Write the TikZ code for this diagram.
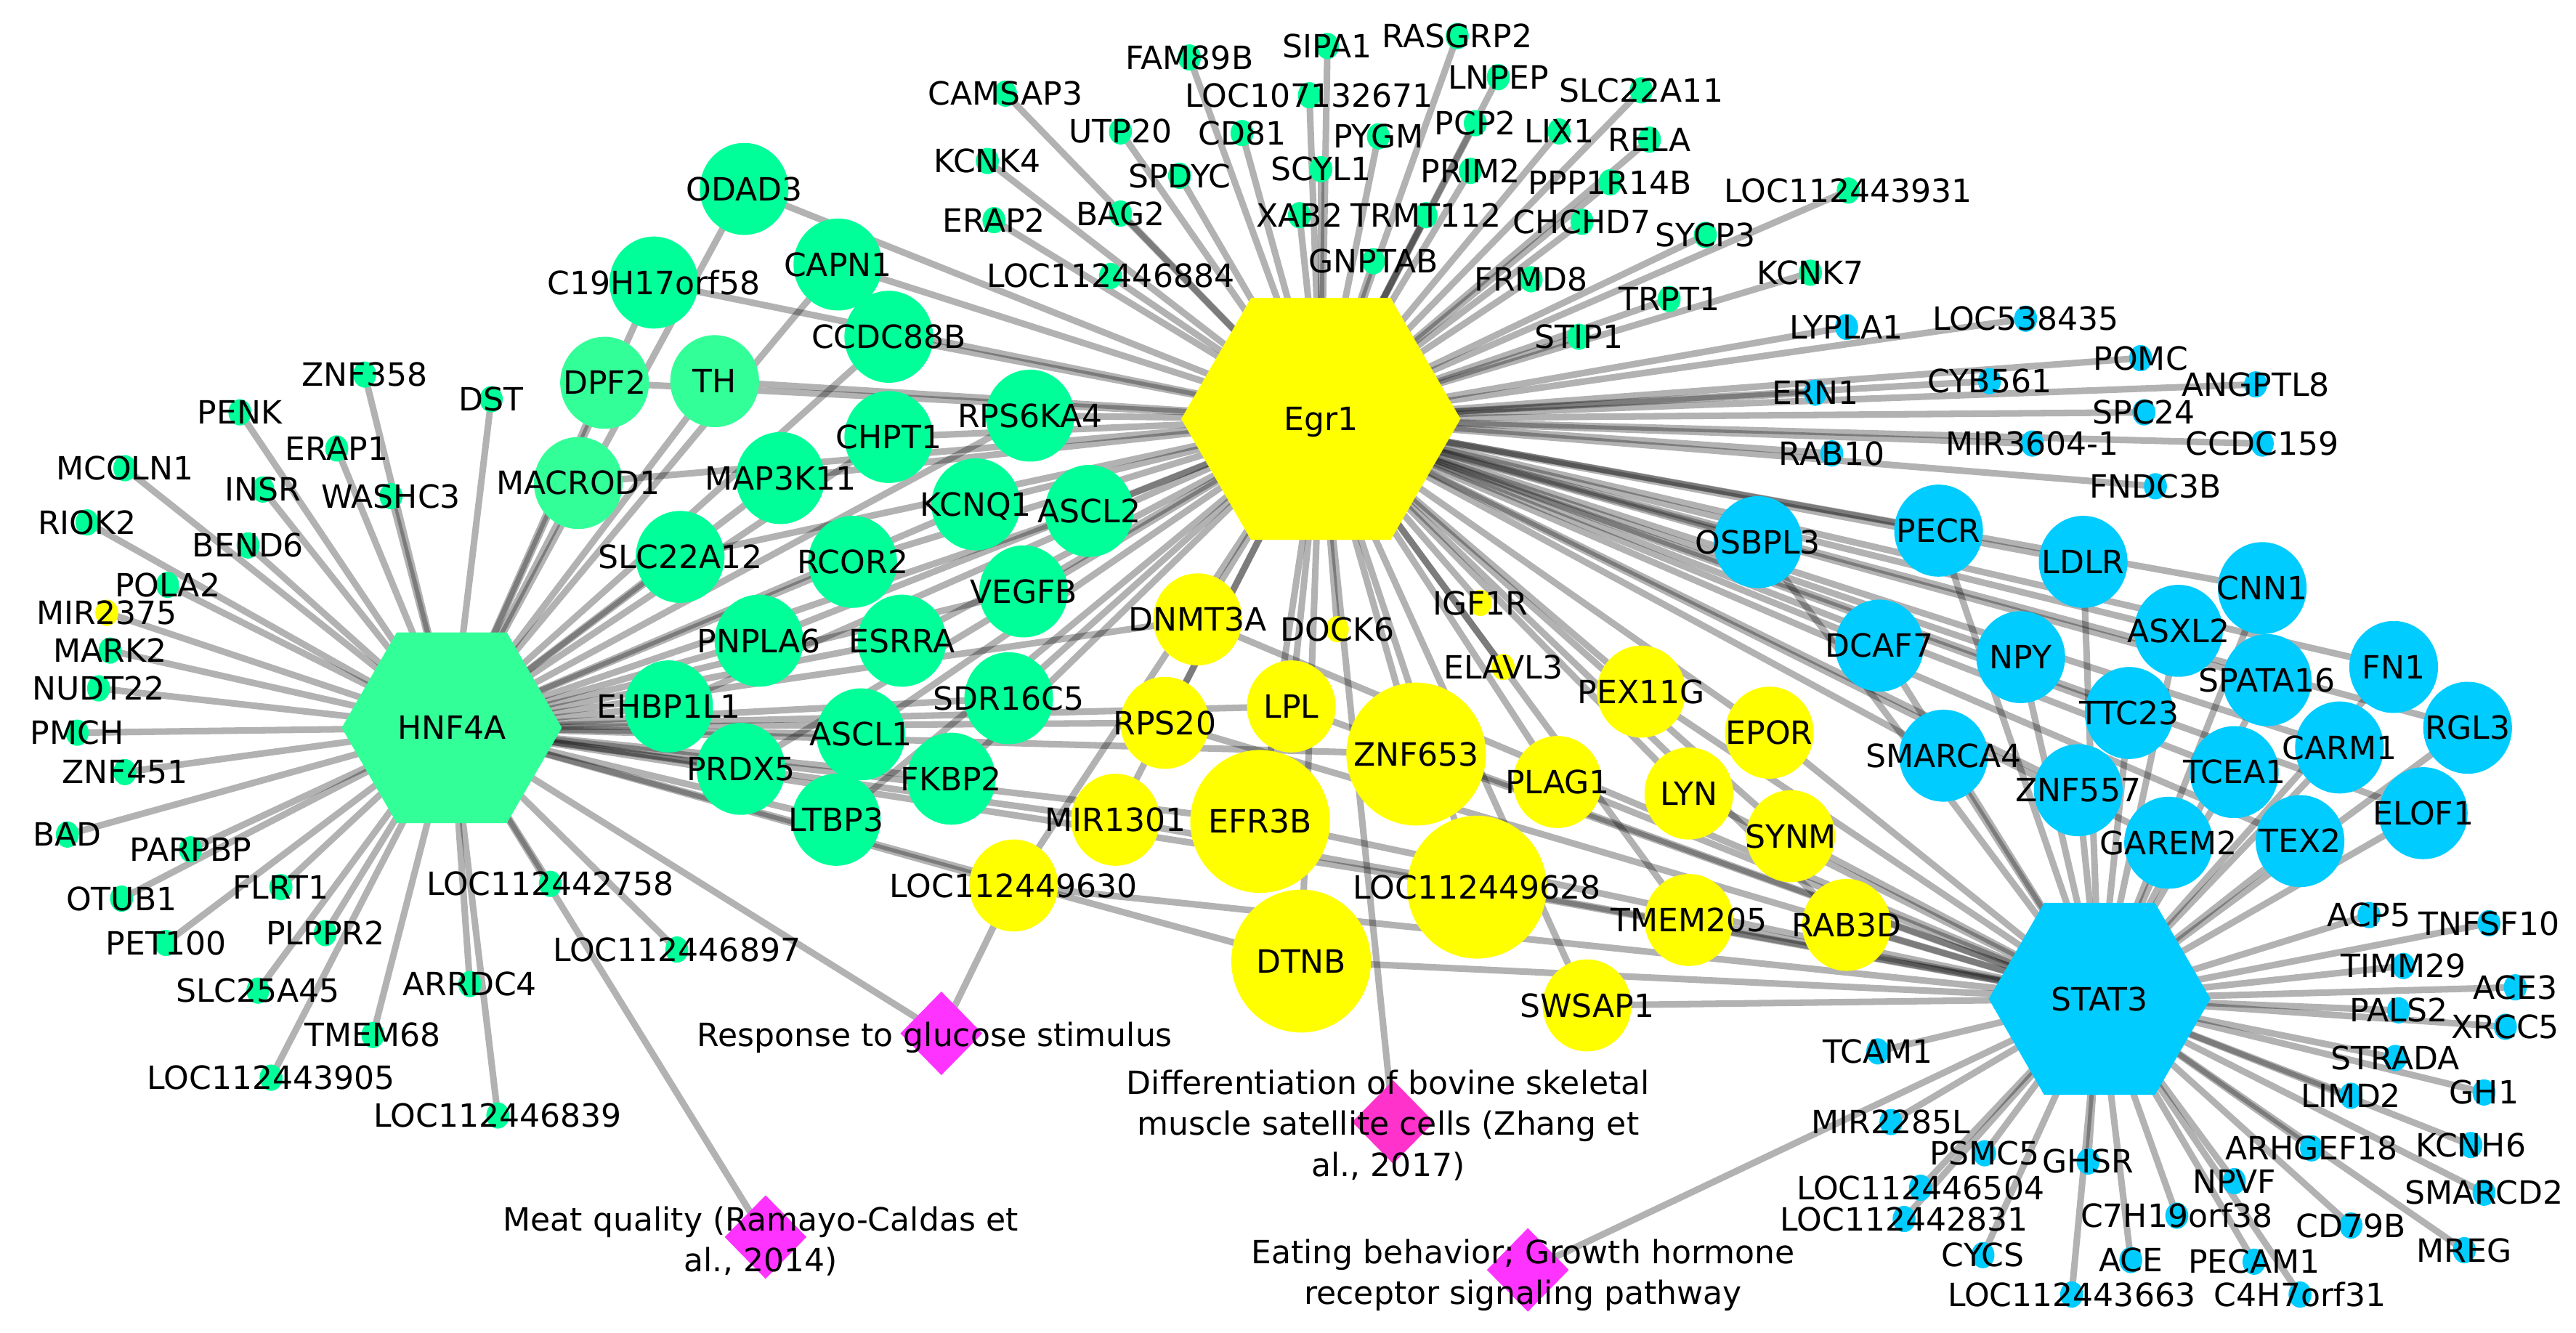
\documentclass[tikz,border=0pt]{standalone}
\usepackage{fontspec}
\setmainfont{DejaVu Sans}
\usetikzlibrary{shapes.geometric}
\pgfdeclarelayer{background}
\pgfdeclarelayer{foreground}
\pgfsetlayers{background,main,foreground}
\definecolor{gA}{HTML}{00FF99}
\definecolor{gB}{HTML}{33FF99}
\definecolor{yA}{HTML}{FFFF00}
\definecolor{bA}{HTML}{00CCFF}
\definecolor{mA}{HTML}{FF33FF}
\definecolor{mB}{HTML}{FF33CC}
\newcommand\lblfont{\fontsize{19.5}{24.8}\selectfont}
\def\passA#1#2#3#4#5{\node[#2] (#1) at (#3,#4) {};}
\def\passB#1#2#3#4#5{\node[lbl] (#1l) at (#1.center) {#5};}
\newcommand\GT[5]{\curpass{#1}{#2}{#3}{#4}{#5}}
\newcommand\G[4]{\curpass{#1}{#2}{#3}{#4}{#1}}
\newcommand\hubto[2]{\foreach \n in {#2}{\draw[lnk] (#1.center) -- (\n.center);}}
\newcommand\hexat[3]{\fill[#3] (#1.center) +(0:#2) -- +(60:#2) -- +(120:#2) -- +(180:#2) -- +(240:#2) -- +(300:#2) -- cycle;}
\newcommand\allnodes{%
\G{HNF4A}{hub}{275}{443}\G{Egr1}{hub}{804}{255}\G{STAT3}{hub}{1278}{608}%
% green left small
\G{ZNF358}{gd}{222}{228}\G{DST}{gd}{299}{243}\G{PENK}{gd}{146}{251}\G{ERAP1}{gd}{205}{273}%
\G{MCOLN1}{gd}{76}{285}\G{INSR}{gd}{160}{298}\G{WASHC3}{gd}{238}{302}\G{RIOK2}{gd}{53}{318}%
\G{BEND6}{gd}{151}{332}\G{POLA2}{gd}{102}{356}\G{MIR2375}{yd}{65}{373}\G{MARK2}{gd}{67}{396}%
\G{NUDT22}{gd}{60}{419}\G{PMCH}{gd}{47}{446}\G{ZNF451}{gd}{76}{470}\G{BAD}{gd}{41}{508}%
\G{PARPBP}{gd}{116}{517}\G{FLRT1}{gd}{171}{540}\G{OTUB1}{gd}{74}{547}\G{PET100}{gd}{101}{574}%
\G{PLPPR2}{gd}{198}{568}\G{SLC25A45}{gd}{157}{603}\G{TMEM68}{gd}{227}{630}\G{LOC112443905}{gd}{165}{656}%
\G{ARRDC4}{gd}{286}{599}\G{LOC112446839}{gd}{303}{679}\G{LOC112442758}{gd}{335}{538}\G{LOC112446897}{gd}{412}{578}%
% green big
\G{ODAD3}{gb}{453}{115}\G{C19H17orf58}{gb}{398}{172}\G{CAPN1}{gb}{510}{161}\G{CCDC88B}{gb}{541}{205}%
\G{DPF2}{gl}{368}{233}\G{TH}{gl}{435}{232}\G{MACROD1}{gl}{352}{294}\G{RPS6KA4}{gb}{627}{253}%
\G{CHPT1}{gb}{541}{266}\G{MAP3K11}{gb}{475}{291}\G{SLC22A12}{gb}{414}{339}\G{KCNQ1}{gb}{594}{307}%
\G{ASCL2}{gb}{663}{311}\G{RCOR2}{gb}{519}{342}\G{VEGFB}{gb}{623}{360}\G{PNPLA6}{gb}{462}{390}%
\G{ESRRA}{gb}{549}{390}\G{EHBP1L1}{gb}{407}{430}\G{SDR16C5}{gb}{614}{425}\G{ASCL1}{gb}{524}{447}%
\G{PRDX5}{gb}{451}{468}\G{FKBP2}{gb}{579}{474}\G{LTBP3}{gb}{509}{499}%
% green top small
\G{FAM89B}{gd}{724}{35}\G{CAMSAP3}{gd}{612}{57}\G{UTP20}{gd}{682}{80}\G{CD81}{gd}{756}{81}%
\G{KCNK4}{gd}{601}{98}\G{SPDYC}{gd}{718}{107}\G{ERAP2}{gd}{605}{134}\G{BAG2}{gd}{682}{130}%
\G{LOC112446884}{gd}{676}{168}\G{SIPA1}{gd}{808}{28}\G{LOC107132671}{gd}{797}{58}\G{SCYL1}{gd}{804}{103}%
\G{XAB2}{gd}{791}{131}\G{PYGM}{gd}{839}{83}\G{GNPTAB}{gd}{836}{159}\G{TRMT112}{gd}{868}{131}%
\G{RASGRP2}{gd}{887}{22}\G{LNPEP}{gd}{912}{47}\G{PCP2}{gd}{898}{75}\G{PRIM2}{gd}{895}{104}%
\G{LIX1}{gd}{949}{80}\G{SLC22A11}{gd}{999}{55}\G{RELA}{gd}{1004}{85}\G{PPP1R14B}{gd}{980}{111}%
\G{CHCHD7}{gd}{963}{135}\G{SYCP3}{gd}{1038}{143}\G{LOC112443931}{gd}{1125}{116}\G{FRMD8}{gd}{932}{170}%
\G{KCNK7}{gd}{1102}{166}\G{TRPT1}{gd}{1016}{182}\G{STIP1}{gd}{961}{205}%
% blue top small
\G{LYPLA1}{bd}{1124}{199}\G{ERN1}{bd}{1105}{239}\G{RAB10}{bd}{1115}{276}\G{LOC538435}{bd}{1233}{194}%
\G{CYB561}{bd}{1211}{232}\G{POMC}{bd}{1303}{218}\G{ANGPTL8}{bd}{1373}{234}\G{SPC24}{bd}{1305}{251}%
\GT{MIRthreesix}{bd}{1237}{270}{MIR3604-1}\G{CCDC159}{bd}{1377}{270}\G{FNDC3B}{bd}{1312}{296}%
% yellow
\G{DOCK6}{yd}{814}{383}\G{IGF1R}{yd}{901}{367}\G{ELAVL3}{yd}{915}{406}%
\G{DNMT3A}{yb}{729}{377}\G{RPS20}{yb}{709}{440}\G{LPL}{yb}{786}{430}\G{PEX11G}{yb}{999}{421}%
\G{EPOR}{yb}{1077}{446}\G{PLAG1}{yb}{948}{476}\G{LYN}{yb}{1028}{483}\G{SYNM}{yb}{1090}{509}%
\G{MIR1301}{yb}{679}{499}\G{LOC112449630}{yb}{617}{539}\G{TMEM205}{yb}{1028}{560}\G{RAB3D}{yb}{1124}{563}%
\G{SWSAP1}{yb}{966}{612}\G{ZNF653}{yh}{862}{459}\G{EFR3B}{yh}{767}{500}\G{LOC112449628}{yh}{899}{540}%
\G{DTNB}{yh}{792}{585}%
% blue big
\G{OSBPL3}{bb}{1070}{330}\G{PECR}{bb}{1180}{323}\G{LDLR}{bb}{1268}{342}\G{CNN1}{bb}{1377}{358}%
\G{DCAF7}{bb}{1144}{393}\G{NPY}{bb}{1230}{400}\G{ASXL2}{bb}{1326}{384}\G{SPATA16}{bb}{1380}{414}%
\G{FN1}{bb}{1457}{406}\G{RGL3}{bb}{1502}{443}\G{TTC23}{bb}{1296}{434}\G{SMARCA4}{bb}{1183}{460}%
\G{ZNF557}{bb}{1265}{481}\G{TCEA1}{bb}{1360}{470}\G{CARM1}{bb}{1424}{455}\G{ELOF1}{bb}{1475}{495}%
\G{GAREM2}{bb}{1320}{513}\G{TEX2}{bb}{1400}{512}%
% blue bottom small
\G{ACP5}{bd}{1442}{557}\G{TNFSF10}{bd}{1515}{562}\G{TIMM29}{bd}{1463}{588}\G{ACE3}{bd}{1531}{601}%
\G{PALS2}{bd}{1460}{615}\G{XRCC5}{bd}{1525}{625}\G{STRADA}{bd}{1458}{644}\G{LIMD2}{bd}{1431}{667}%
\G{GH1}{bd}{1512}{665}\G{ARHGEF18}{bd}{1407}{699}\G{KCNH6}{bd}{1504}{697}\G{NPVF}{bd}{1360}{719}%
\G{SMARCD2}{bd}{1512}{726}\G{C7H19orf38}{bd}{1325}{740}\G{CD79B}{bd}{1431}{746}\G{MREG}{bd}{1500}{761}%
\G{ACE}{bd}{1297}{767}\G{PECAM1}{bd}{1372}{768}\G{LOC112443663}{bd}{1261}{788}\G{C4H7orf31}{bd}{1400}{788}%
\G{CYCS}{bd}{1207}{764}\G{GHSR}{bd}{1271}{707}\G{PSMC5}{bd}{1208}{702}\G{LOC112446504}{bd}{1169}{723}%
\G{LOC112442831}{bd}{1159}{742}\G{MIR2285L}{bd}{1151}{683}\G{TCAM1}{bd}{1143}{640}%
}
\begin{document}
\begin{tikzpicture}[x=1pt,y=-1pt,
  nsm/.style={ellipse,inner sep=0pt,minimum width=14pt,minimum height=16pt},
  nbg/.style={ellipse,inner sep=0pt,minimum width=54pt,minimum height=56pt},
  nhg/.style={ellipse,inner sep=0pt,minimum width=85pt,minimum height=87pt},
  hub/.style={circle,inner sep=0pt,minimum size=10pt},
  gd/.style={nsm,fill=gA}, yd/.style={nsm,fill=yA}, bd/.style={nsm,fill=bA},
  gb/.style={nbg,fill=gA}, gl/.style={nbg,fill=gB}, yb/.style={nbg,fill=yA},
  yh/.style={nhg,fill=yA}, bb/.style={nbg,fill=bA},
  diam/.style={diamond,inner sep=0pt,minimum width=50pt,minimum height=51pt},
  lbl/.style={inner sep=0pt,anchor=base,yshift=-7.1pt,font=\lblfont,text=black},
  mlbl/.style={inner sep=0pt,anchor=north,align=center,font=\lblfont,text=black},
  lnk/.style={line width=4pt,draw=black,draw opacity=0.3}]
\useasboundingbox (0,0) rectangle (1568,811);
\let\curpass\passA
\allnodes
\hexat{HNF4A}{67}{gB}
\hexat{Egr1}{85}{yA}
\hexat{STAT3}{67.5}{bA}
\node[diam,fill=mA] (RESP) at (573,629) {};
\node[diam,fill=mA] (MEAT) at (466,753) {};
\node[diam,fill=mB] (DIFF) at (848,683) {};
\node[diam,fill=mA] (EAT) at (930,773) {};
\begin{pgfonlayer}{background}
\hubto{HNF4A}{ZNF358,DST,PENK,ERAP1,MCOLN1,INSR,WASHC3,RIOK2,BEND6,POLA2,MIR2375,MARK2,NUDT22,PMCH,ZNF451,BAD,PARPBP,FLRT1,OTUB1,PET100,PLPPR2,SLC25A45,TMEM68,LOC112443905,ARRDC4,LOC112446839,LOC112442758,LOC112446897}
\hubto{HNF4A}{ODAD3,C19H17orf58,CAPN1,CCDC88B,DPF2,TH,MACROD1,RPS6KA4,CHPT1,MAP3K11,SLC22A12,KCNQ1,ASCL2,RCOR2,VEGFB,PNPLA6,ESRRA,EHBP1L1,SDR16C5,ASCL1,PRDX5,FKBP2,LTBP3}
\hubto{Egr1}{ODAD3,C19H17orf58,CAPN1,CCDC88B,DPF2,TH,MACROD1,RPS6KA4,CHPT1,MAP3K11,SLC22A12,KCNQ1,ASCL2,RCOR2,VEGFB,PNPLA6,ESRRA,EHBP1L1,SDR16C5,ASCL1,PRDX5,FKBP2,LTBP3}
\hubto{HNF4A}{DNMT3A,RPS20,LPL,ZNF653,MIR1301,EFR3B,LOC112449630,LOC112449628,DTNB,RESP,MEAT}
\hubto{Egr1}{FAM89B,CAMSAP3,UTP20,CD81,KCNK4,SPDYC,ERAP2,BAG2,LOC112446884,SIPA1,LOC107132671,SCYL1,XAB2,PYGM,GNPTAB,TRMT112,RASGRP2,LNPEP,PCP2,PRIM2,LIX1,SLC22A11,RELA,PPP1R14B,CHCHD7,SYCP3,LOC112443931,FRMD8,KCNK7,TRPT1,STIP1}
\hubto{Egr1}{LYPLA1,ERN1,RAB10,LOC538435,CYB561,POMC,ANGPTL8,SPC24,MIRthreesix,CCDC159,FNDC3B,DOCK6,IGF1R,ELAVL3,DIFF}
\hubto{Egr1}{DNMT3A,RPS20,LPL,PEX11G,EPOR,PLAG1,LYN,SYNM,MIR1301,LOC112449630,TMEM205,RAB3D,SWSAP1,ZNF653,EFR3B,LOC112449628,DTNB}
\hubto{STAT3}{DNMT3A,RPS20,LPL,PEX11G,EPOR,PLAG1,LYN,SYNM,MIR1301,LOC112449630,TMEM205,RAB3D,SWSAP1,ZNF653,EFR3B,LOC112449628,DTNB}
\hubto{Egr1}{OSBPL3,PECR,LDLR,CNN1,DCAF7,NPY,ASXL2,SPATA16,FN1,RGL3,TTC23,SMARCA4,ZNF557,TCEA1,CARM1,ELOF1,GAREM2,TEX2}
\hubto{STAT3}{OSBPL3,PECR,LDLR,CNN1,DCAF7,NPY,ASXL2,SPATA16,FN1,RGL3,TTC23,SMARCA4,ZNF557,TCEA1,CARM1,ELOF1,GAREM2,TEX2}
\hubto{STAT3}{ACP5,TNFSF10,TIMM29,ACE3,PALS2,XRCC5,STRADA,LIMD2,GH1,ARHGEF18,KCNH6,NPVF,SMARCD2,C7H19orf38,CD79B,MREG,ACE,PECAM1,LOC112443663,C4H7orf31,CYCS,GHSR,PSMC5,LOC112446504,LOC112442831,MIR2285L,TCAM1,EAT}
\draw[lnk] (LOC112449630.center) -- (RESP.center);
\end{pgfonlayer}
\begin{pgfonlayer}{foreground}
\let\curpass\passB
\allnodes
\node[lbl] (RESPl) at (569,630) {Response to glucose stimulus};
\node[mlbl] (MEATl) at (463,734.3) {Meat quality (Ramayo-Caldas et\\al., 2014)};
\node[mlbl] (DIFFl) at (845,651.3) {Differentiation of bovine skeletal\\muscle satellite cells (Zhang et\\al., 2017)};
\node[mlbl] (EATl) at (927,754.3) {Eating behavior; Growth hormone\\receptor signaling pathway};
\end{pgfonlayer}
\end{tikzpicture}
\end{document}
